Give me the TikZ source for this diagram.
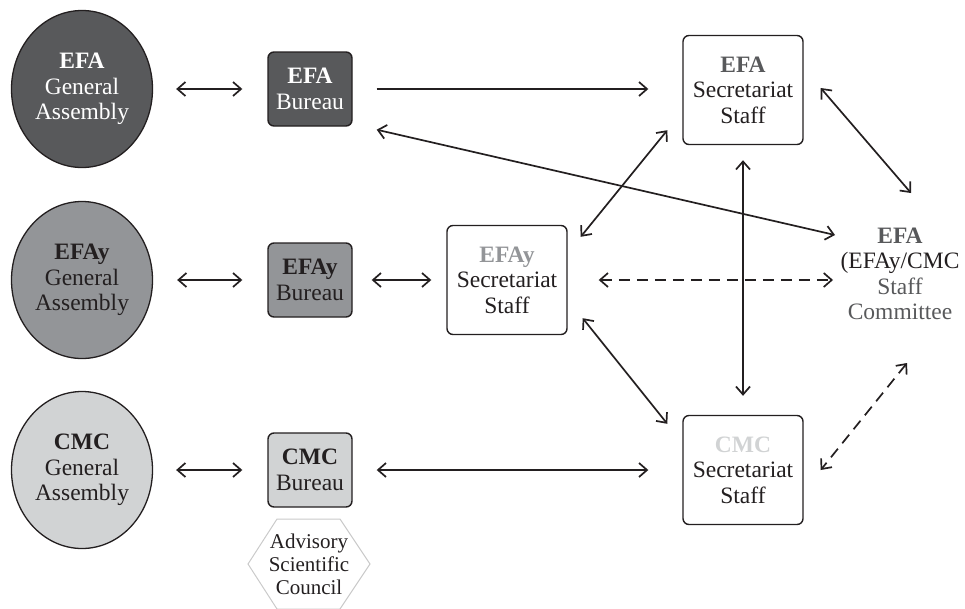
\documentclass[tikz,border=0pt]{standalone}
\usepackage{fontspec}
\setmainfont{Liberation Serif}
\usetikzlibrary{shapes.geometric,arrows.meta}

\definecolor{fonce}{HTML}{58595B}
\definecolor{moyen}{HTML}{939598}
\definecolor{clair}{HTML}{D1D3D4}
\definecolor{trait}{HTML}{231F20}
\definecolor{hexa}{HTML}{CACACA}

\tikzset{texte/.style = {align=center, inner sep=0pt, text=trait,
                         font=\fontsize{23.5}{25.5}\selectfont},
         assemblee/.style = {texte, ellipse, draw=trait, line width=1.3pt, fill=#1,
                             minimum width=141pt, minimum height=157pt},
         bureau/.style = {texte, rectangle, rounded corners=6pt, draw=trait, line width=1.4pt,
                          fill=#1, minimum width=84pt, minimum height=74pt},
         secretariat/.style = {texte, rectangle, rounded corners=6pt, draw=trait, line width=1.4pt,
                               minimum width=120pt, minimum height=109pt},
         fleche/.style = {draw=trait, line width=1.7pt},
         pointille/.style = {fleche, dash pattern=on 11pt off 7pt}
        }

\begin{document}
\begin{tikzpicture}[x=1pt, y=-1pt, >={Straight Barb[length=8pt,width=14pt]}]
  \useasboundingbox (0,0) rectangle (965,608);

  \node[assemblee=fonce, text=white] (gaA) at (82,89)  {\textbf{EFA}\\General\\Assembly};
  \node[assemblee=moyen]             (gaB) at (82,280) {\textbf{EFAy}\\General\\Assembly};
  \node[assemblee=clair]             (gaC) at (82,470) {\textbf{CMC}\\General\\Assembly};

  \node[bureau=fonce, text=white] (buA) at (310,89)  {\textbf{EFA}\\Bureau};
  \node[bureau=moyen]             (buB) at (310,280) {\textbf{EFAy}\\Bureau};
  \node[bureau=clair]             (buC) at (310,470) {\textbf{CMC}\\Bureau};

  \node[secretariat] (secA) at (743,90)  {{\color{fonce}\textbf{EFA}}\\Secretariat\\Staff};
  \node[secretariat] (secB) at (507,280) {{\color{moyen}\textbf{EFAy}}\\Secretariat\\Staff};
  \node[secretariat] (secC) at (743,470) {{\color{clair}\textbf{CMC}}\\Secretariat\\Staff};

  \node[texte] (com) at (900,274) {{\color{fonce}\textbf{EFA}}\\(EFAy/CMC\\{\color{fonce}Staff}\\{\color{fonce}Committee}};

  \node[texte, font=\fontsize{21}{23}\selectfont] (asc) at (309,564) {Advisory\\Scientific\\Council};
  \draw[hexa, line width=1pt] ([shift={(-61,0)}]asc.center) -- ([shift={(-32,-45)}]asc.center)
        -- ([shift={(31,-45)}]asc.center) -- ([shift={(61,0)}]asc.center)
        -- ([shift={(31,45)}]asc.center) -- ([shift={(-32,45)}]asc.center) -- cycle;

  \draw[fleche, <->, shorten <=23pt, shorten >=25pt] (gaA) -- (buA);
  \draw[fleche, <->, shorten <=24pt, shorten >=25pt] (gaB) -- (buB);
  \draw[fleche, <->, shorten <=23pt, shorten >=25pt] (gaC) -- (buC);
  \draw[fleche, <->, shorten <=19pt, shorten >=15pt] (buB) -- (secB);
  \draw[fleche, ->,  shorten <=24pt, shorten >=34pt] (buA) -- (buA -| secA.west);
  \draw[fleche, <->, shorten <=24pt, shorten >=34pt] (buC) -- (secC);
  \draw[fleche, <->] ([shift={(24,3)}]buA.south east) -- ([shift={(-65,-39)}]com.center);
  \draw[fleche, <->] ([shift={(17,-2)}]secA.east) -- ([shift={(11,-81)}]com.center);
  \draw[fleche, <->] ([shift={(13,12)}]secB.north east) -- ([shift={(-15,-15)}]secA.south west);
  \draw[fleche, <->] ([shift={(15,-17)}]secB.south east) -- ([shift={(-15,9)}]secC.north west);
  \draw[fleche, <->, shorten <=15pt, shorten >=19pt] (secA) -- (secC);
  \draw[pointille, <->, shorten <=31pt] (secB) -- ([shift={(-67,6)}]com.center);
  \draw[pointille, <->] ([shift={(7,89)}]com.center) -- ([xshift=17pt]secC.east);
\end{tikzpicture}
\end{document}
